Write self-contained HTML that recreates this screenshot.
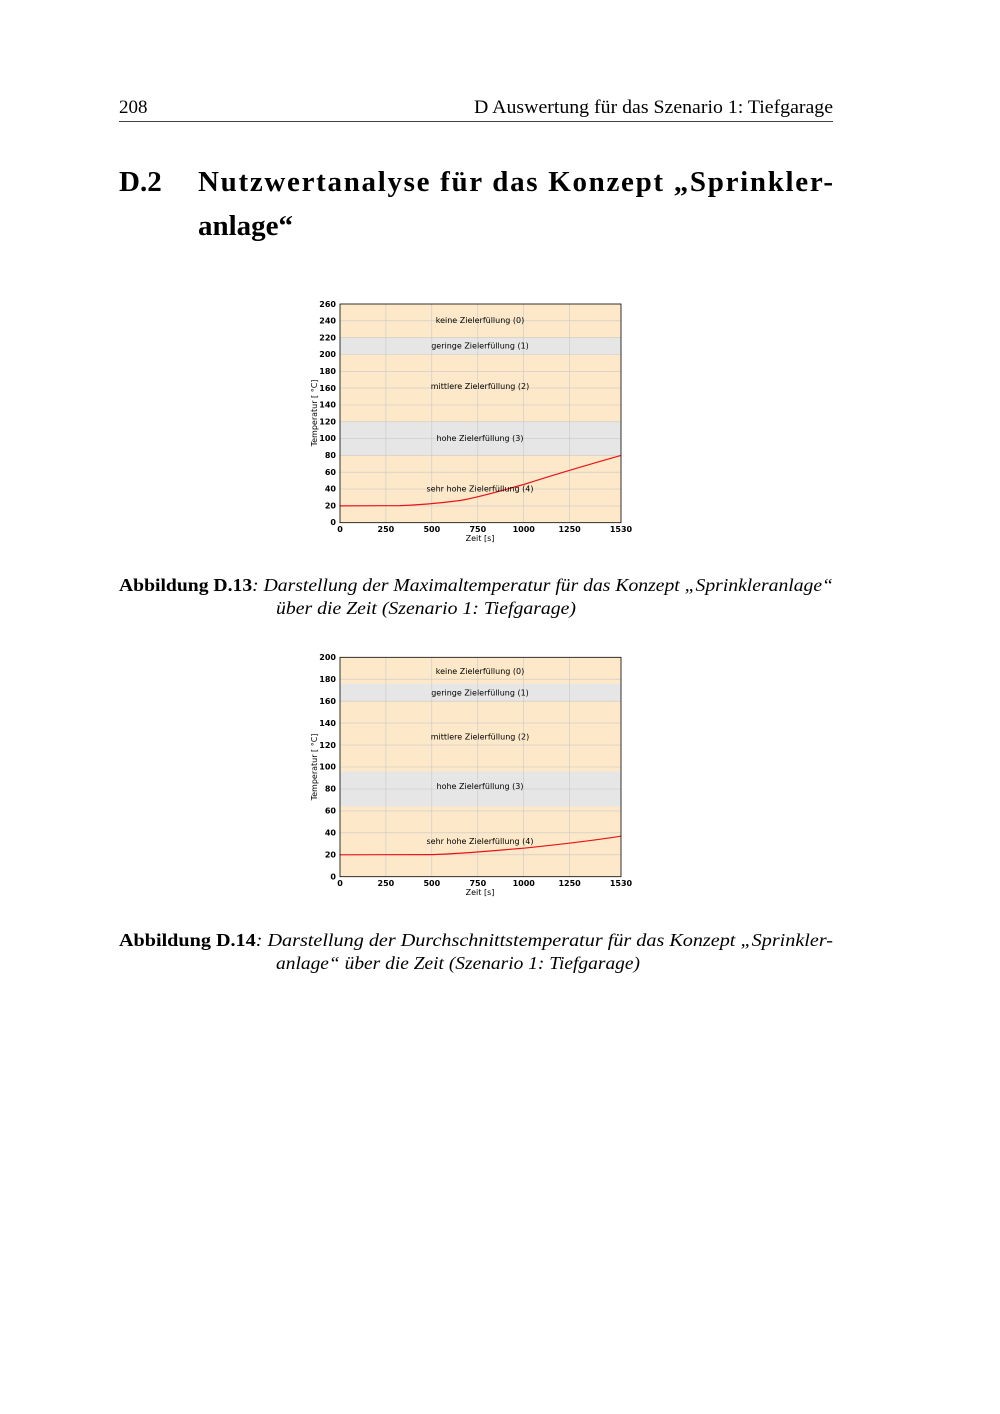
<!DOCTYPE html>
<html><head><meta charset="utf-8"><style>
body{margin:0;background:#fff}
svg{display:block}
.s{font-family:"DejaVu Sans","Liberation Sans",sans-serif;font-size:8px;fill:#000}
.r{font-family:"Liberation Serif",serif;fill:#000}
</style></head><body>
<svg width="1000" height="1414" xmlns="http://www.w3.org/2000/svg">
<text class="r" x="119" y="113" font-size="19">208</text>
<text class="r" x="474" y="113" font-size="19" textLength="359" lengthAdjust="spacingAndGlyphs">D Auswertung für das Szenario 1: Tiefgarage</text>
<line x1="119" y1="121.5" x2="833" y2="121.5" stroke="#000" stroke-width="0.8"/>
<text class="r" x="119" y="191" font-size="29" font-weight="bold">D.2</text>
<text class="r" x="198" y="191" font-size="29" font-weight="bold" textLength="635" lengthAdjust="spacing">Nutzwertanalyse für das Konzept „Sprinkler-</text>
<text class="r" x="198" y="235" font-size="29" font-weight="bold">anlage“</text>

<!-- Chart 1 -->
<g>
<rect x="340" y="304" width="281" height="218.7" fill="#fde9c9"/>
<rect x="340" y="337.6" width="281" height="16.8" fill="#e6e6e6"/>
<rect x="340" y="421.8" width="281" height="33.6" fill="#e6e6e6"/>
<g stroke="#c8c8c8" stroke-width="0.6">
<line x1="385.9" y1="304" x2="385.9" y2="522.7"/><line x1="431.8" y1="304" x2="431.8" y2="522.7"/><line x1="477.8" y1="304" x2="477.8" y2="522.7"/><line x1="523.7" y1="304" x2="523.7" y2="522.7"/><line x1="569.6" y1="304" x2="569.6" y2="522.7"/>
<line x1="340" y1="505.9" x2="621" y2="505.9"/><line x1="340" y1="489.1" x2="621" y2="489.1"/><line x1="340" y1="472.2" x2="621" y2="472.2"/><line x1="340" y1="455.4" x2="621" y2="455.4"/><line x1="340" y1="438.6" x2="621" y2="438.6"/><line x1="340" y1="421.8" x2="621" y2="421.8"/><line x1="340" y1="405" x2="621" y2="405"/><line x1="340" y1="388.1" x2="621" y2="388.1"/><line x1="340" y1="371.3" x2="621" y2="371.3"/><line x1="340" y1="354.5" x2="621" y2="354.5"/><line x1="340" y1="337.7" x2="621" y2="337.7"/><line x1="340" y1="320.8" x2="621" y2="320.8"/>
</g>
<path d="M340,505.9 L400,505.6 C420,505 440,503 460,500.5 C480,497 500,491 523.7,484.5 C550,476 580,467 621,455.4" fill="none" stroke="#e8141b" stroke-width="1.2"/>
<rect x="340" y="304" width="281" height="218.7" fill="none" stroke="#000" stroke-width="0.8"/>
<g class="s" text-anchor="middle">
<text x="480" y="323">keine Zielerfüllung (0)</text>
<text x="480" y="348.5">geringe Zielerfüllung (1)</text>
<text x="480" y="389">mittlere Zielerfüllung (2)</text>
<text x="480" y="441">hohe Zielerfüllung (3)</text>
<text x="480" y="491.5">sehr hohe Zielerfüllung (4)</text>
<g font-weight="bold"><text x="340" y="532">0</text><text x="385.9" y="532">250</text><text x="431.8" y="532">500</text><text x="477.8" y="532">750</text><text x="523.7" y="532">1000</text><text x="569.6" y="532">1250</text><text x="621" y="532">1530</text></g>
<text x="480" y="541">Zeit [s]</text>
</g>
<g class="s" text-anchor="end" font-weight="bold">
<text x="336" y="525">0</text><text x="336" y="508.5">20</text><text x="336" y="491.5">40</text><text x="336" y="475">60</text><text x="336" y="458">80</text><text x="336" y="441">100</text><text x="336" y="424.5">120</text><text x="336" y="407.5">140</text><text x="336" y="391">160</text><text x="336" y="374">180</text><text x="336" y="357">200</text><text x="336" y="340.5">220</text><text x="336" y="323.5">240</text><text x="336" y="307">260</text>
</g>
<text class="s" transform="translate(317,413) rotate(-90)" text-anchor="middle">Temperatur [ °C]</text>
</g>

<text class="r" x="119" y="591" font-size="18" textLength="714" lengthAdjust="spacingAndGlyphs"><tspan font-weight="bold">Abbildung D.13</tspan><tspan font-style="italic">: Darstellung der Maximaltemperatur für das Konzept „Sprinkleranlage“</tspan></text>
<text class="r" x="276" y="614" font-size="18" font-style="italic" textLength="300" lengthAdjust="spacingAndGlyphs">über die Zeit (Szenario 1: Tiefgarage)</text>

<!-- Chart 2 -->
<g>
<rect x="340" y="657.3" width="281" height="219.4" fill="#fde9c9"/>
<rect x="340" y="683.7" width="281" height="17.5" fill="#e6e6e6"/>
<rect x="340" y="771.4" width="281" height="35.1" fill="#e6e6e6"/>
<g stroke="#c8c8c8" stroke-width="0.6">
<line x1="385.9" y1="657.3" x2="385.9" y2="876.7"/><line x1="431.8" y1="657.3" x2="431.8" y2="876.7"/><line x1="477.8" y1="657.3" x2="477.8" y2="876.7"/><line x1="523.7" y1="657.3" x2="523.7" y2="876.7"/><line x1="569.6" y1="657.3" x2="569.6" y2="876.7"/>
<line x1="340" y1="854.8" x2="621" y2="854.8"/><line x1="340" y1="832.8" x2="621" y2="832.8"/><line x1="340" y1="810.9" x2="621" y2="810.9"/><line x1="340" y1="789" x2="621" y2="789"/><line x1="340" y1="767" x2="621" y2="767"/><line x1="340" y1="745.1" x2="621" y2="745.1"/><line x1="340" y1="723.1" x2="621" y2="723.1"/><line x1="340" y1="701.2" x2="621" y2="701.2"/><line x1="340" y1="679.2" x2="621" y2="679.2"/>
</g>
<path d="M340,854.8 L431.8,854.6 C460,854 490,851 523.7,848.2 C560,844.5 590,841 621,836.2" fill="none" stroke="#e8141b" stroke-width="1.2"/>
<rect x="340" y="657.3" width="281" height="219.4" fill="none" stroke="#000" stroke-width="0.8"/>
<g class="s" text-anchor="middle">
<text x="480" y="674">keine Zielerfüllung (0)</text>
<text x="480" y="695.5">geringe Zielerfüllung (1)</text>
<text x="480" y="739.5">mittlere Zielerfüllung (2)</text>
<text x="480" y="789">hohe Zielerfüllung (3)</text>
<text x="480" y="844">sehr hohe Zielerfüllung (4)</text>
<g font-weight="bold"><text x="340" y="886">0</text><text x="385.9" y="886">250</text><text x="431.8" y="886">500</text><text x="477.8" y="886">750</text><text x="523.7" y="886">1000</text><text x="569.6" y="886">1250</text><text x="621" y="886">1530</text></g>
<text x="480" y="895">Zeit [s]</text>
</g>
<g class="s" text-anchor="end" font-weight="bold">
<text x="336" y="879.5">0</text><text x="336" y="857.5">20</text><text x="336" y="835.5">40</text><text x="336" y="813.5">60</text><text x="336" y="791.5">80</text><text x="336" y="769.5">100</text><text x="336" y="748">120</text><text x="336" y="726">140</text><text x="336" y="704">160</text><text x="336" y="682">180</text><text x="336" y="660">200</text>
</g>
<text class="s" transform="translate(317,767) rotate(-90)" text-anchor="middle">Temperatur [ °C]</text>
</g>

<text class="r" x="119" y="946" font-size="18" textLength="714" lengthAdjust="spacingAndGlyphs"><tspan font-weight="bold">Abbildung D.14</tspan><tspan font-style="italic">: Darstellung der Durchschnittstemperatur für das Konzept „Sprinkler-</tspan></text>
<text class="r" x="276" y="969" font-size="18" font-style="italic" textLength="364" lengthAdjust="spacingAndGlyphs">anlage“ über die Zeit (Szenario 1: Tiefgarage)</text>
</svg>
</body></html>
